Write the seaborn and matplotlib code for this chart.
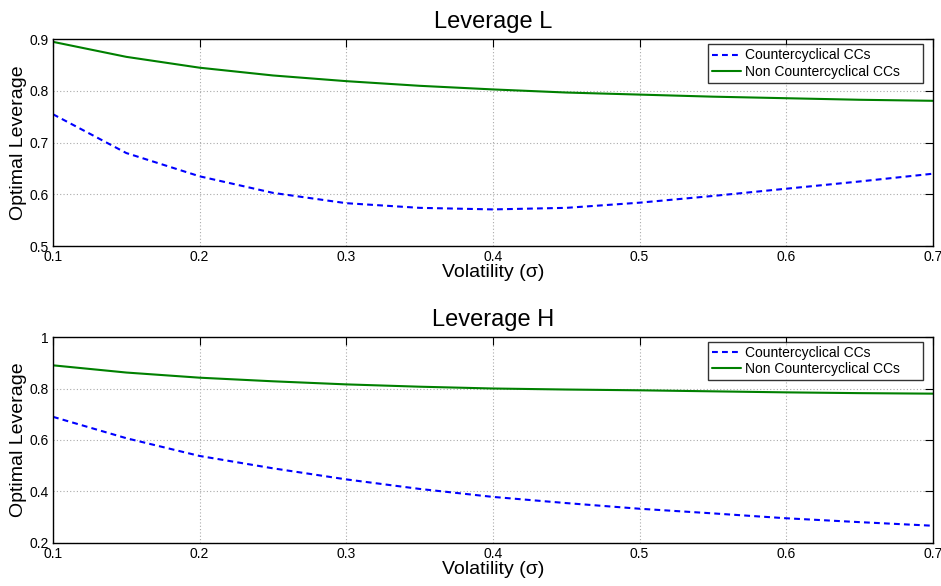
import numpy as np
import pandas as pd
import matplotlib
matplotlib.use("Agg")
import matplotlib.pyplot as plt
import seaborn as sns

sigma = [0.1, 0.15, 0.2, 0.25, 0.3, 0.35, 0.4, 0.45, 0.5, 0.55, 0.6, 0.65, 0.7]
L_counter = [0.755, 0.680, 0.635, 0.603, 0.583, 0.574, 0.571, 0.574, 0.584, 0.597, 0.611, 0.625, 0.640]
L_non = [0.895, 0.866, 0.845, 0.830, 0.819, 0.810, 0.803, 0.797, 0.793, 0.789, 0.786, 0.783, 0.781]
H_counter = [0.690, 0.607, 0.538, 0.490, 0.447, 0.410, 0.379, 0.355, 0.333, 0.315, 0.296, 0.281, 0.267]
H_non = [0.890, 0.862, 0.842, 0.828, 0.816, 0.807, 0.800, 0.796, 0.793, 0.789, 0.785, 0.782, 0.780]

series_names = ["Countercyclical CCs", "Non Countercyclical CCs"]
x_ticks = [0.1, 0.2, 0.3, 0.4, 0.5, 0.6, 0.7]
x_ticklabels = ["0.1", "0.2", "0.3", "0.4", "0.5", "0.6", "0.7"]
L_yticks = [0.5, 0.6, 0.7, 0.8, 0.9]
L_yticklabels = ["0.5", "0.6", "0.7", "0.8", "0.9"]
H_yticks = [0.2, 0.4, 0.6, 0.8, 1.0]
H_yticklabels = ["0.2", "0.4", "0.6", "0.8", "1"]

sns.set_theme(style="white")
plt.rcParams['font.family'] = ['Liberation Sans', 'DejaVu Sans']
plt.rcParams['text.color'] = 'black'
plt.rcParams['axes.labelcolor'] = 'black'
plt.rcParams['xtick.color'] = 'black'
plt.rcParams['ytick.color'] = 'black'

fig = plt.figure(figsize=(9.41, 5.86), dpi=100)
ax1 = fig.add_axes([0.0563, 0.580, 0.935, 0.353])
ax2 = fig.add_axes([0.0563, 0.0734, 0.935, 0.3515])

palette = {series_names[0]: (0, 0, 1), series_names[1]: (0, 0.5, 0)}
dashes = {series_names[0]: (2.8, 2.0), series_names[1]: ""}

def make_df(c, n):
    return pd.DataFrame({
        "sigma": sigma * 2,
        "value": c + n,
        "series": [series_names[0]] * len(sigma) + [series_names[1]] * len(sigma),
    })

panels = [
    (ax1, make_df(L_counter, L_non), "Leverage L", (0.5, 0.9), L_yticks, L_yticklabels),
    (ax2, make_df(H_counter, H_non), "Leverage H", (0.2, 1.0), H_yticks, H_yticklabels),
]

for ax, df, title, ylim, yt, ytl in panels:
    sns.lineplot(data=df, x="sigma", y="value", hue="series", style="series",
                 palette=palette, dashes=dashes, linewidth=1.5, ax=ax)
    ax.set_xlim(0.1, 0.7)
    ax.set_ylim(*ylim)
    ax.set_xticks(x_ticks)
    ax.set_xticklabels(x_ticklabels)
    ax.set_yticks(yt)
    ax.set_yticklabels(ytl)
    ax.grid(True, linestyle=(0, (1, 2)), color="#aaaaaa", linewidth=0.8)
    ax.tick_params(direction="in", length=6, width=0.8, top=True, right=True,
                   labelsize=10, pad=3, colors="black")
    for s in ax.spines.values():
        s.set_visible(True)
        s.set_color("black")
        s.set_linewidth(1.0)
    ax.set_title(title, fontsize=17, pad=8, color="black")
    ax.set_xlabel("Volatility (σ)", fontsize=14, labelpad=0)
    ax.set_ylabel("Optimal Leverage", fontsize=14, labelpad=2)
    leg = ax.legend(loc="upper left", bbox_to_anchor=(0.744, 0.0, 0.245, 1 - 5 / 207),
                    mode="expand", borderaxespad=0, fontsize=10, frameon=True,
                    fancybox=False, handlelength=2.1, handletextpad=0.3,
                    labelspacing=0.15, borderpad=0.3)
    leg.get_frame().set_edgecolor("black")
    leg.get_frame().set_linewidth(1.0)

fig.savefig("out.png", dpi=100)
